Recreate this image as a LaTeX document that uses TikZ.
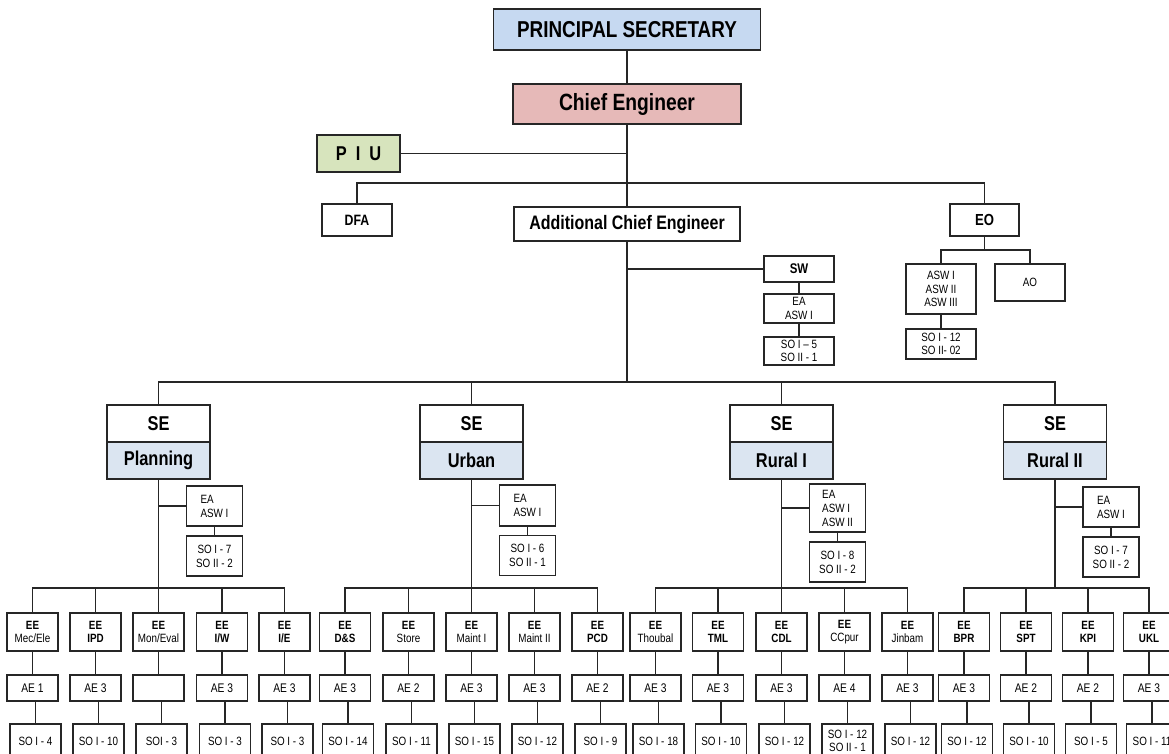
\documentclass[tikz,border=0pt]{standalone}
\usepackage{fontspec}
\setmainfont{Liberation Sans}[FakeStretch=0.82]
\definecolor{psblue}{HTML}{C6D9F1}
\definecolor{cepink}{HTML}{E6B9B8}
\definecolor{piugreen}{HTML}{D7E4BD}
\definecolor{sefill}{HTML}{DBE5F1}
\definecolor{linec}{HTML}{262626}

\tikzset{
  wire/.style={draw=linec, line width=1.6pt},
  box/.style={draw=linec, line width=1.5pt, fill=white, inner sep=1pt, align=center},
  sebox/.style={box, minimum width=103pt, minimum height=37pt, font=\bfseries\fontsize{20}{23}\selectfont},
  eabox/.style={box, minimum width=56pt, font=\fontsize{12}{14}\selectfont, align=left},
  eebox/.style={box, minimum width=51pt, minimum height=38pt, font=\fontsize{12}{13.5}\selectfont},
  aebox/.style={box, minimum width=51pt, minimum height=26pt, font=\fontsize{12.5}{14}\selectfont},
  sobox/.style={box, minimum width=51pt, minimum height=34pt, font=\fontsize{12}{13}\selectfont},
  smallbox/.style={box, minimum width=70pt, font=\fontsize{12}{13.5}\selectfont},
}

% one superintending-engineer division: id, x, division, EA y, EA height, EA text, SO y, SO text
\newcommand\segroup[8]{%
  \node[sebox] (#1se) at (#2,423.5) {SE};
  \node[sebox, fill=sefill] (#1div) at (#2,460.5) {#3};
  \node[eabox, minimum height=#5pt] (#1ea) at ({#2+56},#4) {#6};
  \node[eabox, minimum height=40pt, align=center] (#1so) at ({#2+56},#7) {#8};
  \coordinate (#1bus) at (#2,588);
  \draw[wire] (#1se.north) |- (mainbus);
  \draw[wire] (#1div.south) -- (#1bus);
  \draw[wire] (#1ea.west) -- (#1ea.west -| #1div.south);
  \draw[wire] (#1ea.south) -- (#1so.north);
}

% one executive-engineer column: id, x, group id, second line, AE text, SO text
\newcommand\eecol[6]{%
  \node[eebox] (#1ee) at (#2,632) {\textbf{EE}\\#4};
  \node[aebox] (#1ae) at (#2,688) {#5};
  \node[sobox] (#1so) at ({#2+3},741) {#6};
  \draw[wire] (#1ee.north) |- (#3bus);
  \draw[wire] (#1ee.south) -- (#1ae.north);
  \draw[wire] (#1so.north) -- (#1so.north |- #1ae.south);
}

\begin{document}
\begin{tikzpicture}[x=1pt, y=-1pt]
\useasboundingbox (0,0) rectangle (1169,753);
\clip (0,0) rectangle (1169,753);

% head of department
\node[box, fill=psblue, minimum width=267pt, minimum height=41pt,
      font=\bfseries\fontsize{23}{26}\selectfont] (ps) at (627,29.5) {PRINCIPAL SECRETARY};
\node[box, fill=cepink, minimum width=228pt, minimum height=40pt,
      font=\bfseries\fontsize{23.5}{26}\selectfont] (ce) at (627,104) {Chief Engineer};
\node[box, fill=piugreen, minimum width=83pt, minimum height=37pt,
      font=\bfseries\fontsize{20}{24}\selectfont] (piu) at (358.5,153.5) {P\hspace{9pt}I\hspace{9pt}U};
\node[box, minimum width=70pt, minimum height=32pt,
      font=\bfseries\fontsize{15}{18}\selectfont] (dfa) at (357,220) {DFA};
\node[box, minimum width=226pt, minimum height=34pt,
      font=\bfseries\fontsize{19.5}{22}\selectfont] (ace) at (627,224) {Additional Chief Engineer};
\node[box, minimum width=69pt, minimum height=32pt,
      font=\bfseries\fontsize{16}{19}\selectfont] (eo) at (984.5,220) {EO};

\coordinate (cebus) at (627,183);
\coordinate (eobus) at (984.5,250);
\coordinate (mainbus) at (627,382);

\draw[wire] (ps.south) -- (ce.north);
\draw[wire] (ce.south) -- (ace.north);
\draw[wire] (piu.east) -- (piu.east -| ce.south);
\draw[wire] (dfa.north) |- (cebus) -| (eo.north);
\draw[wire] (ace.south) -- (mainbus);

% staff wing
\node[smallbox, minimum height=26pt, font=\bfseries\fontsize{14}{16}\selectfont] (sw) at (799,269) {SW};
\node[smallbox, minimum height=29pt] (swea) at (799,308.5) {EA\\ASW I};
\node[smallbox, minimum height=28pt] (swso) at (799,351) {SO I – 5\\SO II - 1};
\draw[wire] (sw.west) -- (sw.west -| ace.south);
\draw[wire] (sw.south) -- (swea.north);
\draw[wire] (swea.south) -- (swso.north);

% establishment office
\node[smallbox, minimum height=50pt] (asw) at (941,289) {ASW I\\ASW II\\ASW III};
\node[smallbox, minimum height=37pt] (ao) at (1030,282.5) {AO};
\node[smallbox, minimum height=30pt] (eoso) at (941,344) {SO I - 12\\SO II- 02};
\draw[wire] (eo.south) -- (eobus);
\draw[wire] (asw.north) |- (eobus);
\draw[wire] (ao.north) |- (eobus);
\draw[wire] (asw.south) -- (eoso.north);

% circles
\segroup{P}{158.5}{Planning}{506}{40}{EA\\ASW I}{556}{SO I - 7\\SO II - 2}
\segroup{U}{471.5}{Urban}{505.5}{41}{EA\\ASW I}{555.5}{SO I - 6\\SO II - 1}
\segroup{R}{781.5}{Rural I}{508}{48}{EA\\ASW I\\ASW II}{562}{SO I - 8\\SO II - 2}
\segroup{Q}{1055}{Rural II}{507}{40}{EA\\ASW I}{557}{SO I - 7\\SO II - 2}

% divisions
\eecol{p1}{32.5}{P}{Mec/Ele}{AE 1}{SO I - 4}
\eecol{p2}{95.5}{P}{\textbf{IPD}}{AE 3}{SO I - 10}
\eecol{p3}{158.5}{P}{Mon/Eval}{}{SOI - 3}
\eecol{p4}{222}{P}{\textbf{I/W}}{AE 3}{SO I - 3}
\eecol{p5}{284.5}{P}{\textbf{I/E}}{AE 3}{SO I - 3}

\eecol{u1}{345}{U}{\textbf{D\&S}}{AE 3}{SO I - 14}
\eecol{u2}{408.5}{U}{Store}{AE 2}{SO I - 11}
\eecol{u3}{471.5}{U}{Maint I}{AE 3}{SO I - 15}
\eecol{u4}{534.5}{U}{Maint II}{AE 3}{SO I - 12}
\eecol{u5}{597.5}{U}{\textbf{PCD}}{AE 2}{SO I - 9}

\eecol{r1}{655.5}{R}{Thoubal}{AE 3}{SO I - 18}
\eecol{r2}{718}{R}{\textbf{TML}}{AE 3}{SO I - 10}
\eecol{r3}{781.5}{R}{\textbf{CDL}}{AE 3}{SO I - 12}
\eecol{r4}{844.5}{R}{CCpur}{AE 4}{SO I - 12\\SO II - 1}
\eecol{r5}{907.5}{R}{Jinbam}{AE 3}{SO I - 12}

\eecol{q1}{964}{Q}{\textbf{BPR}}{AE 3}{SO I - 12}
\eecol{q2}{1026}{Q}{\textbf{SPT}}{AE 2}{SO I - 10}
\eecol{q3}{1088}{Q}{\textbf{KPI}}{AE 2}{SO I - 5}
\eecol{q4}{1149}{Q}{\textbf{UKL}}{AE 3}{SO I - 11}
\end{tikzpicture}
\end{document}
